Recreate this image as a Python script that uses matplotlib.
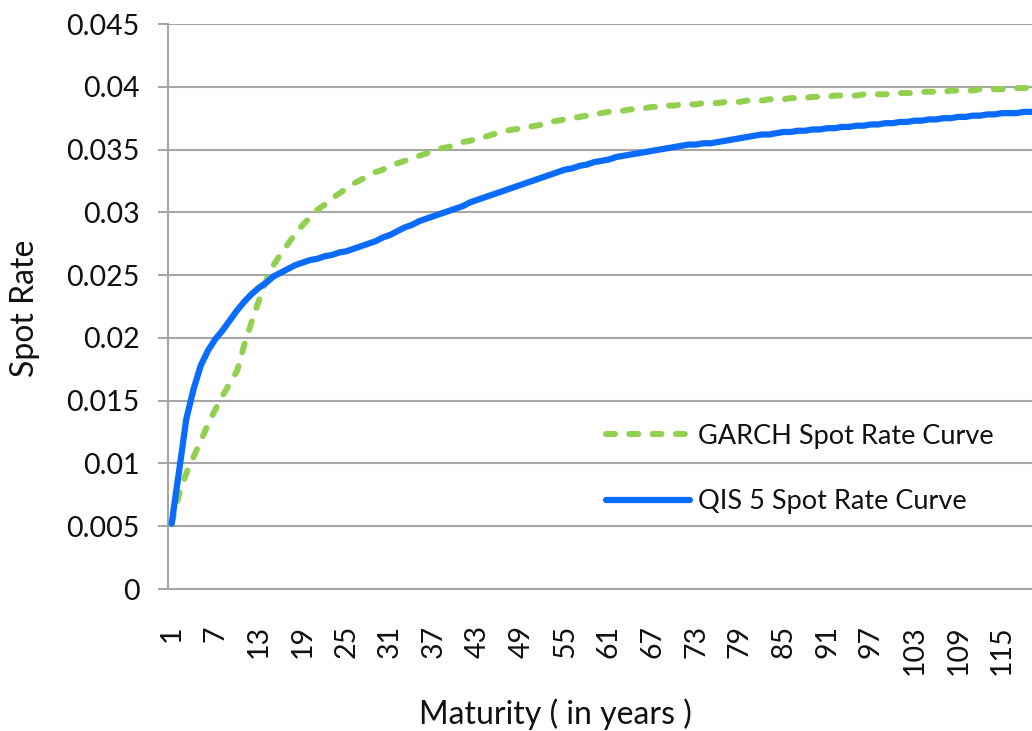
import matplotlib
matplotlib.use("Agg")
import matplotlib.pyplot as plt

plt.rcParams['font.family'] = ['Lato', 'DejaVu Sans']

maturity = list(range(1, 121))

qis5 = [
    0.0052, 0.0093, 0.0135, 0.0159, 0.0178, 0.0190, 0.0199, 0.0206, 0.0214, 0.0222,
    0.0229, 0.0235, 0.0240, 0.0244, 0.0249, 0.0252, 0.0255, 0.0258, 0.0260, 0.0262,
    0.0263, 0.0265, 0.0266, 0.0268, 0.0269, 0.0271, 0.0273, 0.0275, 0.0277, 0.0280,
    0.0282, 0.0285, 0.0288, 0.0290, 0.0293, 0.0295, 0.0297, 0.0299, 0.0301, 0.0303,
    0.0305, 0.0308, 0.0310, 0.0312, 0.0314, 0.0316, 0.0318, 0.0320, 0.0322, 0.0324,
    0.0326, 0.0328, 0.0330, 0.0332, 0.0334, 0.0335, 0.0337, 0.0338, 0.0340, 0.0341,
    0.0342, 0.0344, 0.0345, 0.0346, 0.0347, 0.0348, 0.0349, 0.0350, 0.0351, 0.0352,
    0.0353, 0.0354, 0.0354, 0.0355, 0.0355, 0.0356, 0.0357, 0.0358, 0.0359, 0.0360,
    0.0361, 0.0362, 0.0362, 0.0363, 0.0364, 0.0364, 0.0365, 0.0365, 0.0366, 0.0366,
    0.0367, 0.0367, 0.0368, 0.0368, 0.0369, 0.0369, 0.0370, 0.0370, 0.0371, 0.0371,
    0.0372, 0.0372, 0.0373, 0.0373, 0.0374, 0.0374, 0.0375, 0.0375, 0.0376, 0.0376,
    0.0377, 0.0377, 0.0378, 0.0378, 0.0379, 0.0379, 0.0379, 0.0380, 0.0380, 0.0381,
]

garch = [
    0.0052, 0.0075, 0.0092, 0.0105, 0.0118, 0.0131, 0.0143, 0.0154, 0.0164, 0.0174,
    0.0195, 0.0213, 0.0230, 0.0246, 0.0258, 0.0267, 0.0275, 0.0283, 0.0290, 0.0296,
    0.0302, 0.0306, 0.0311, 0.0315, 0.0319, 0.0323, 0.0326, 0.0329, 0.0332, 0.0334,
    0.0337, 0.0339, 0.0341, 0.0343, 0.0345, 0.0347, 0.0349, 0.0351, 0.0352, 0.0354,
    0.0356, 0.0357, 0.0359, 0.0360, 0.0362, 0.0363, 0.0365, 0.0366, 0.0367, 0.0368,
    0.0369, 0.0370, 0.0372, 0.0373, 0.0374, 0.0375, 0.0376, 0.0377, 0.0378, 0.0379,
    0.0380, 0.0380, 0.0381, 0.0382, 0.0382, 0.0383, 0.0384, 0.0384, 0.0385, 0.0385,
    0.0386, 0.0386, 0.0386, 0.0387, 0.0387, 0.0387, 0.0388, 0.0388, 0.0388, 0.0389,
    0.0389, 0.0389, 0.0390, 0.0390, 0.0390, 0.0391, 0.0391, 0.0391, 0.0392, 0.0392,
    0.0392, 0.0393, 0.0393, 0.0393, 0.0393, 0.0394, 0.0394, 0.0394, 0.0394, 0.0395,
    0.0395, 0.0395, 0.0395, 0.0396, 0.0396, 0.0396, 0.0396, 0.0397, 0.0397, 0.0397,
    0.0397, 0.0398, 0.0398, 0.0398, 0.0398, 0.0399, 0.0399, 0.0399, 0.0399, 0.0400,
]

xtick_labels = [str(v) for v in range(1, 121, 6)]
yticks = [0, 0.005, 0.01, 0.015, 0.02, 0.025, 0.03, 0.035, 0.04, 0.045]
ytick_labels = ['0', '0.005', '0.01', '0.015', '0.02', '0.025', '0.03', '0.035', '0.04', '0.045']

W, H = 1032, 731
fig = plt.figure(figsize=(W / 100, H / 100), dpi=100)
left, right, top, bottom = 168, 1042, 24, 589
ax = fig.add_axes([left / W, 1 - bottom / H, (right - left) / W, (bottom - top) / H])

grid_col = '#A6A6A6'
green = '#92D050'
blue = '#0A6CFF'
text_col = '#111111'

ax.plot(maturity, garch, color=green, lw=4.3, dashes=(1.5, 2.4),
        dash_capstyle='round', label='GARCH Spot Rate Curve', zorder=3)
ax.plot(maturity, qis5, color=blue, lw=4.5, solid_capstyle='round',
        label='QIS 5 Spot Rate Curve', zorder=4)

ax.set_xlim(0.5, 120.5)
ax.set_ylim(0, 0.045)
ax.set_yticks(yticks)
ax.set_yticklabels(ytick_labels)
ax.set_xticks(list(range(1, 121, 6)))
ax.set_xticklabels(xtick_labels, rotation=90)

ax.yaxis.grid(True, color=grid_col, lw=1.5)
ax.set_axisbelow(True)
for s in ['top', 'right']:
    ax.spines[s].set_visible(False)
for s in ['left', 'bottom']:
    ax.spines[s].set_color(grid_col)
    ax.spines[s].set_linewidth(1.5)

ax.tick_params(axis='y', length=7.5, width=1.5, color=grid_col, pad=13,
               labelsize=20.5, labelcolor=text_col)
ax.tick_params(axis='x', length=0, pad=26, labelsize=20.5, labelcolor=text_col)

fig.text(25 / W, 1 - 308 / H, 'Spot Rate', rotation=90, ha='center', va='center',
         fontsize=23, color=text_col)
fig.text(555 / W, 1 - 714 / H, 'Maturity ( in years )', ha='center', va='center',
         fontsize=23, color=text_col)

leg = ax.legend(loc='center left', bbox_to_anchor=(582 / W, 1 - 469 / H),
                bbox_transform=fig.transFigure, frameon=False, fontsize=19.5,
                handlelength=3.1, handletextpad=0.3, labelspacing=1.5)
for t in leg.get_texts():
    t.set_color(text_col)

fig.savefig('out.png', dpi=100)
